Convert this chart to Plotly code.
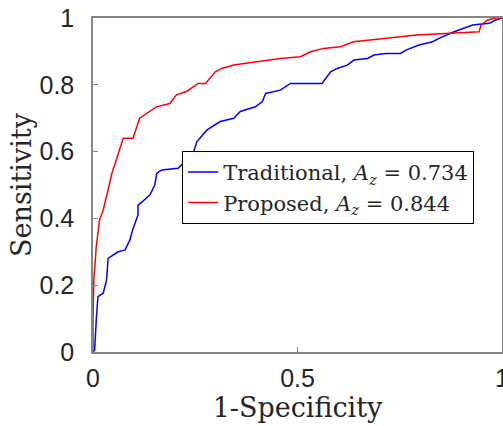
import plotly.graph_objects as go

# Traditional (blue) ROC curve
trad_fpr = [0.0, 0.004, 0.008, 0.012, 0.025, 0.033, 0.037, 0.061, 0.078, 0.09, 0.098, 0.110, 0.110,
            0.139, 0.151, 0.156, 0.168, 0.208, 0.225, 0.245, 0.254, 0.279, 0.311, 0.344, 0.36,
            0.397, 0.414, 0.422, 0.458, 0.483, 0.507, 0.56, 0.581, 0.597, 0.622, 0.638, 0.671,
            0.687, 0.716, 0.752, 0.765, 0.797, 0.83, 0.846, 0.883, 0.928, 0.969, 0.985, 1.0]
trad_tpr = [0.0, 0.006, 0.096, 0.166, 0.176, 0.215, 0.28, 0.30, 0.305, 0.335, 0.37, 0.41, 0.439,
            0.47, 0.50, 0.535, 0.545, 0.55, 0.57, 0.595, 0.63, 0.665, 0.69, 0.70, 0.72,
            0.734, 0.75, 0.774, 0.784, 0.804, 0.804, 0.804, 0.839, 0.849, 0.859, 0.874, 0.879,
            0.889, 0.894, 0.894, 0.904, 0.919, 0.929, 0.939, 0.959, 0.979, 0.984, 0.994, 1.0]

# Proposed (red) ROC curve
prop_fpr = [0.0, 0.0, 0.002, 0.008, 0.016, 0.025, 0.041, 0.045, 0.074, 0.098, 0.114, 0.131, 0.155,
            0.188, 0.204, 0.229, 0.257, 0.275, 0.299, 0.315, 0.344, 0.401, 0.458, 0.507, 0.532,
            0.564, 0.605, 0.637, 0.671, 0.72, 0.752, 0.79, 0.944, 0.949, 0.965, 0.985, 1.0]
prop_tpr = [0.0, 0.10, 0.215, 0.315, 0.395, 0.425, 0.506, 0.53, 0.64, 0.64, 0.70, 0.714, 0.734,
            0.744, 0.77, 0.78, 0.804, 0.804, 0.839, 0.849, 0.859, 0.869, 0.879, 0.884, 0.899,
            0.909, 0.914, 0.929, 0.934, 0.939, 0.944, 0.949, 0.959, 0.979, 0.994, 1.0, 1.0]

x_ticks = [0, 0.5, 1]
x_tick_labels = ["0", "0.5", "1"]
y_ticks = [0, 0.2, 0.4, 0.6, 0.8, 1]
y_tick_labels = ["0", "0.2", "0.4", "0.6", "0.8", "1"]

fig = go.Figure()
fig.add_trace(go.Scatter(x=trad_fpr, y=trad_tpr, mode="lines",
                         line=dict(color="#0000FF", width=1.5),
                         name="Traditional, <i>A<sub>z</sub></i> = 0.734"))
fig.add_trace(go.Scatter(x=prop_fpr, y=prop_tpr, mode="lines",
                         line=dict(color="#FF0000", width=1.5),
                         name="Proposed, <i>A<sub>z</sub></i> = 0.844"))

tickfont = dict(family="Liberation Sans, Arial, sans-serif", size=25, color="#262626")
titlefont = dict(family="DejaVu Serif, Liberation Serif, serif", size=27, color="#262626")
axis_common = dict(showgrid=False, zeroline=False, showline=True, linecolor="#868686",
                   linewidth=1.5, mirror=True, ticks="inside", ticklen=5, tickcolor="#868686",
                   tickfont=tickfont, ticklabeloverflow="allow", automargin=False)

fig.update_layout(
    width=503, height=426,
    margin=dict(l=93, r=1, t=18, b=74, autoexpand=False),
    plot_bgcolor="white", paper_bgcolor="white",
    showlegend=True,
    legend=dict(x=0.218, y=0.602, xanchor="left", yanchor="top",
                bordercolor="#000000", borderwidth=1, bgcolor="white",
                font=dict(family="DejaVu Serif, Liberation Serif, serif", size=21, color="#262626"),
                tracegroupgap=0, itemwidth=30),
    xaxis=dict(range=[0, 1], tickvals=x_ticks, ticktext=x_tick_labels, ticklabelstandoff=3,
               title=dict(text="1-Specificity", standoff=2, font=titlefont),
               **axis_common),
    yaxis=dict(range=[0, 1], tickvals=y_ticks, ticktext=y_tick_labels, ticklabelstandoff=12,
               title=dict(text="Sensitivity", standoff=0, font=titlefont),
               **axis_common),
)

fig.write_html("out.html")
